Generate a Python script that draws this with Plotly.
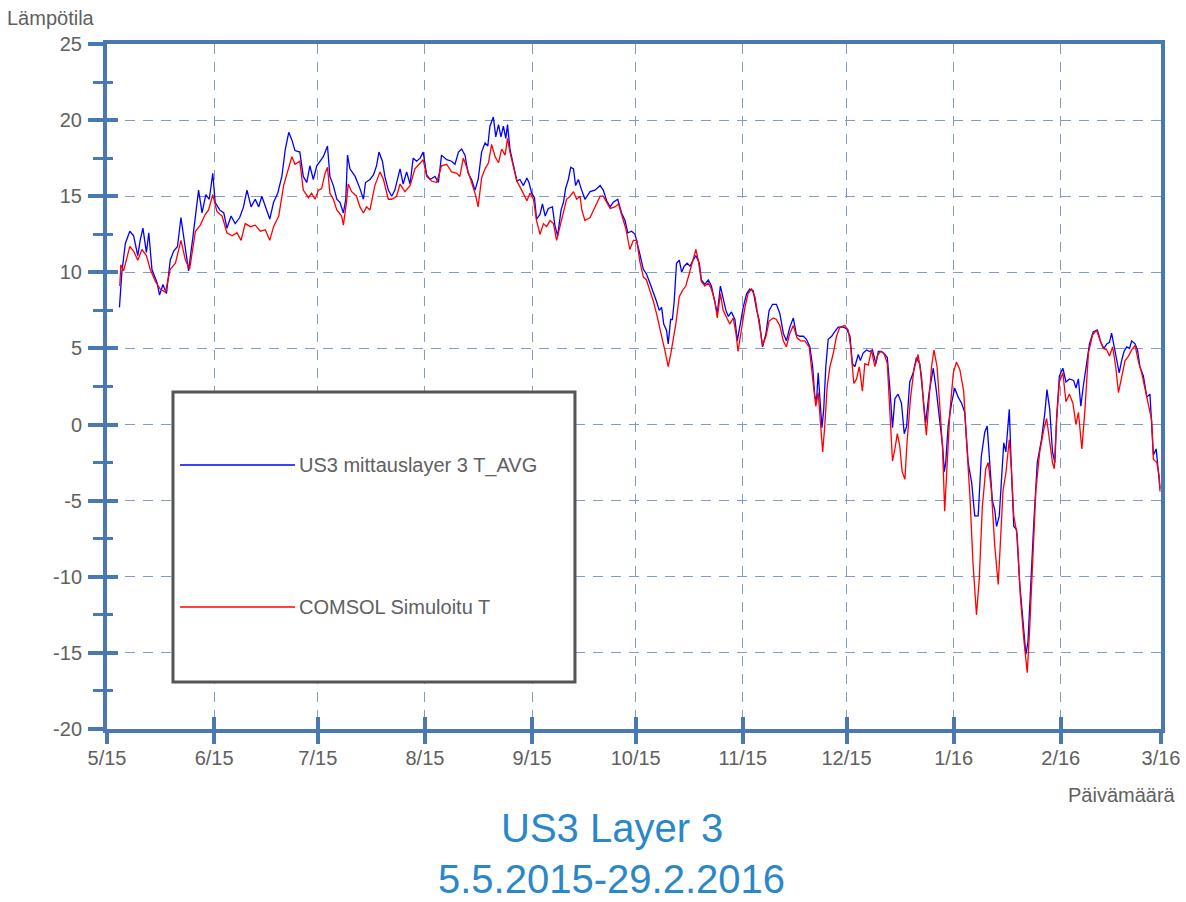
import pandas as pd
import plotly.graph_objects as go

# ---------------- data (days since 2015-05-01, temperature in °C) ----------------
blue_day = [3.6, 4.3, 5.3, 6.6, 7.7, 8.9, 9.6, 10.4, 11.4, 12.1, 13.0, 14.5, 15.2, 16.2, 17.2,
            18.3, 19.3, 20.4, 21.4, 22.4, 23.6, 24.9, 25.8, 26.5, 27.5, 28.6, 29.6, 30.6, 31.3,
            32.6, 33.8, 34.7, 35.9, 37.1, 38.4, 39.5, 40.5, 41.7, 42.9, 43.9, 44.8, 46.1, 47.1,
            48.2, 49.4, 50.6, 51.6, 52.6, 53.5, 54.4, 55.8, 56.8, 57.8, 58.7, 59.7, 60.7, 61.6,
            62.6, 63.8, 64.5, 65.5, 66.5, 67.4, 68.4, 69.1, 69.6, 70.3, 71.8, 73.2, 74.2, 74.8,
            76.1, 77.1, 78.0, 78.7, 79.7, 80.4, 81.4, 82.4, 83.3, 84.8, 85.7, 86.7, 87.7, 88.6,
            89.6, 90.6, 91.5, 92.5, 93.5, 94.9, 95.9, 96.8, 98.3, 99.7, 100.7, 101.7, 102.6,
            103.6, 104.5, 105.5, 106.5, 107.4, 108.4, 109.4, 110.2, 110.8, 111.8, 112.5, 113.3,
            114.0, 114.7, 115.4, 115.9, 116.6, 117.6, 118.6, 119.5, 120.5, 121.5, 122.1, 122.9,
            123.7, 124.3, 125.3, 126.0, 126.8, 127.7, 128.9, 129.6, 130.4, 131.4, 132.1, 132.7,
            133.5, 134.2, 135.0, 135.6, 136.4, 137.2, 138.3, 139.8, 141.2, 142.7, 143.6, 144.6,
            145.6, 146.5, 147.8, 148.9, 149.9, 150.7, 151.8, 152.8, 153.8, 154.2, 155.2, 156.1,
            157.1, 158.1, 159.0, 159.8, 160.5, 161.1, 161.9, 162.4, 163.1, 163.6, 164.1, 164.8,
            165.6, 166.3, 167.0, 167.9, 168.7, 169.6, 170.4, 171.4, 172.0, 173.0, 174.0, 174.9,
            175.9, 176.6, 177.5, 178.3, 179.1, 179.8, 180.7, 181.7, 182.4, 183.1, 184.1, 185.1,
            186.0, 187.0, 188.0, 188.7, 189.7, 190.7, 191.6, 192.6, 193.7, 194.7, 195.7, 196.6,
            197.6, 198.6, 199.5, 200.5, 201.5, 202.4, 203.4, 204.2, 204.8, 205.3, 205.8, 206.3,
            206.9, 207.4, 208.0, 208.7, 209.7, 210.6, 211.6, 213.0, 214.0, 215.0, 215.7, 216.4,
            217.4, 218.0, 218.8, 219.8, 220.7, 221.5, 222.5, 223.2, 224.1, 225.1, 225.8, 226.5,
            227.3, 228.0, 228.9, 229.9, 230.7, 231.4, 232.3, 233.3, 234.2, 235.2, 236.2, 236.9,
            237.9, 239.1, 240.0, 241.0, 241.8, 242.3, 242.7, 243.4, 244.4, 245.3, 246.3, 247.3,
            248.2, 249.2, 250.2, 251.1, 252.1, 253.0, 254.0, 254.7, 255.5, 256.2, 256.9, 257.4,
            258.2, 258.8, 259.5, 260.1, 261.1, 261.7, 262.4, 263.2, 264.1, 265.1, 265.9, 266.5,
            267.3, 268.2, 269.2, 270.4, 271.4, 272.0, 272.8, 273.6, 274.3, 274.8, 275.6, 276.6,
            277.5, 278.5, 279.7, 280.4, 281.1, 281.8, 282.5, 283.3, 284.3, 285.4, 286.6, 287.6,
            288.5, 289.3, 290.1, 290.7, 291.4, 292.2, 292.9, 293.6, 294.3, 295.1, 295.9, 296.5,
            297.5, 298.2, 298.9, 299.9, 300.9, 301.8, 302.3, 302.8, 303.6, 304.2, 304.7]
blue_val = [7.7, 10.0, 11.9, 12.7, 12.4, 11.1, 12.1, 12.9, 11.3, 12.6, 10.2, 9.3, 8.5, 9.2, 8.6,
            10.8, 11.4, 11.7, 13.6, 11.9, 10.1, 12.4, 14.1, 15.4, 13.9, 15.1, 14.8, 16.5, 14.6,
            14.1, 13.9, 12.9, 13.7, 13.2, 13.6, 14.3, 15.4, 14.3, 14.8, 14.3, 15.0, 14.1, 13.5,
            14.6, 15.2, 16.3, 18.1, 19.2, 18.7, 18.0, 17.9, 16.3, 15.9, 17.0, 16.1, 17.0, 17.3,
            17.6, 18.3, 16.3, 15.7, 14.8, 14.6, 13.9, 14.8, 17.7, 16.8, 16.3, 15.5, 14.8, 15.9,
            16.1, 16.4, 17.0, 17.9, 17.3, 16.3, 15.4, 15.0, 15.4, 16.8, 15.8, 16.6, 15.8, 17.5,
            17.3, 17.5, 17.9, 16.4, 16.1, 16.3, 15.9, 17.7, 17.4, 17.3, 17.1, 17.9, 18.1,
            17.7, 16.5, 16.1, 15.4, 16.1, 17.9, 18.5, 18.3, 19.6, 20.2, 18.9, 19.7,
            18.9, 19.6, 18.8, 19.7, 18.1, 17.0, 16.0, 16.1, 15.7, 16.2, 15.9, 15.2,
            14.9, 13.5, 13.8, 14.5, 13.7, 14.2, 14.3, 13.1, 12.4, 14.1, 14.6, 15.5,
            16.1, 16.9, 16.8, 15.7, 16.1, 15.5, 14.8, 15.3, 15.4, 15.7, 15.4, 14.7,
            14.3, 14.6, 14.8, 13.9, 13.4, 12.6, 12.7, 12.5, 11.7, 11.2, 10.2, 9.9,
            9.3, 8.7, 8.1, 7.5, 7.7, 6.6, 6.2, 5.3, 6.9, 6.9, 8.0, 10.6,
            10.8, 10.0, 10.4, 10.6, 10.4, 10.8, 11.1, 10.6, 9.5, 9.2, 9.5, 9.1,
            8.1, 7.3, 9.1, 8.2, 7.5, 7.1, 7.4, 6.9, 5.5, 6.4, 7.7, 8.6,
            8.9, 8.8, 7.5, 6.9, 5.1, 6.0, 7.5, 7.9, 7.9, 7.3, 6.0, 5.5,
            6.4, 7.0, 5.9, 5.8, 5.8, 5.6, 5.1, 3.8, 1.9, 1.5, 3.4, 1.7,
            -0.2, 1.0, 3.8, 5.6, 5.8, 6.1, 6.4, 6.4, 6.3, 5.8, 4.0, 3.8,
            4.6, 4.2, 4.7, 4.9, 4.8, 4.9, 4.0, 4.8, 4.8, 4.6, 4.4, 2.5,
            -0.2, 1.7, 2.0, 1.4, -0.6, -0.1, 2.8, 3.4, 4.4, 4.0, 1.7, 0.1,
            2.1, 3.7, 2.2, 0.4, -1.4, -3.1, -2.5, -0.1, 1.4, 2.4, 1.8, 1.4,
            0.8, -2.5, -3.8, -6.0, -6.0, -2.1, -0.5, -0.1, -2.5, -5.0, -5.6, -6.7,
            -6.0, -4.0, -1.2, -1.8, 1.0, -2.9, -6.7, -6.9, -10.4, -13.0, -15.1, -14.3,
            -10.2, -6.4, -2.5, -1.0, 0.8, 2.3, 1.0, -1.8, -2.5, 0.5, 3.2, 3.7,
            2.8, 3.0, 2.9, 2.4, 3.0, 1.2, 2.5, 3.7, 5.3, 6.1, 6.2, 5.4,
            5.0, 5.3, 5.4, 6.0, 5.1, 4.1, 3.4, 4.2, 4.8, 5.1, 5.0, 5.5,
            5.3, 4.9, 3.8, 3.2, 1.8, 2.0, 0.1, -2.0, -1.6, -3.2, -4.2]

red_day = [3.7, 4.0, 4.8, 5.8, 6.6, 7.7, 8.9, 10.1, 11.4, 12.5, 14.0, 15.4, 16.9, 18.3, 19.8,
           21.4, 22.7, 23.9, 25.6, 27.0, 28.4, 29.4, 30.6, 31.8, 33.3, 34.7, 36.2, 37.6, 38.8,
           40.0, 41.5, 42.9, 44.4, 45.8, 47.1, 48.2, 49.7, 51.1, 52.6, 53.5, 54.4, 55.8, 56.8,
           58.3, 59.2, 60.2, 61.2, 62.1, 63.1, 63.8, 64.5, 65.5, 66.5, 67.9, 68.4, 69.3, 69.8,
           70.8, 72.2, 73.2, 74.2, 75.1, 76.1, 77.5, 79.0, 80.0, 81.4, 82.4, 83.8, 84.8, 86.2,
           87.7, 89.1, 90.6, 91.5, 92.5, 93.9, 95.4, 96.8, 98.3, 99.7, 101.2, 102.1, 103.1,
           104.1, 105.5, 106.5, 107.4, 108.4, 109.4, 110.4, 111.3, 112.3, 113.3, 114.2, 115.2,
           115.9, 116.6, 117.6, 118.6, 120.0, 121.5, 122.4, 123.4, 124.3, 125.3, 126.3, 127.2,
           128.2, 129.2, 130.1, 131.1, 132.1, 133.0, 134.0, 135.0, 135.9, 136.9, 137.4, 138.3,
           139.8, 141.2, 142.7, 143.6, 144.6, 145.6, 147.0, 148.0, 148.9, 150.1, 151.3, 152.3,
           153.3, 153.9, 154.2, 155.2, 156.1, 157.1, 158.1, 159.0, 159.8, 160.5, 161.4, 162.4,
           163.1, 163.8, 164.6, 165.6, 166.5, 167.5, 168.5, 169.4, 170.4, 171.1, 172.0, 173.0,
           174.0, 174.9, 175.9, 176.6, 177.5, 178.3, 179.3, 180.2, 181.2, 182.0, 182.6, 183.6,
           184.6, 185.5, 186.5, 187.5, 188.4, 189.7, 190.7, 191.6, 192.8, 193.7, 194.7, 195.7,
           196.6, 197.6, 198.6, 199.7, 200.7, 201.9, 203.2, 204.2, 205.1, 205.8, 206.5, 207.1,
           207.7, 208.4, 209.2, 210.1, 211.1, 212.1, 213.5, 214.5, 215.2, 216.1, 216.9, 217.7,
           218.6, 219.3, 220.3, 221.2, 222.2, 222.9, 223.8, 224.8, 225.8, 226.5, 227.3, 228.0,
           228.7, 229.4, 230.1, 230.9, 231.5, 232.5, 233.5, 234.7, 235.7, 236.4, 237.1, 237.9,
           238.6, 239.3, 240.2, 241.0, 241.8, 242.4, 243.1, 243.9, 244.9, 245.8, 246.8, 247.9,
           248.7, 249.7, 250.6, 251.6, 252.4, 253.3, 254.3, 255.0, 255.9, 256.9, 257.9, 258.5,
           259.3, 260.1, 261.1, 261.7, 262.4, 263.4, 264.3, 265.3, 266.3, 267.0, 267.8, 268.8,
           269.9, 271.1, 271.9, 272.6, 273.6, 274.1, 274.8, 275.6, 276.6, 277.5, 278.5, 279.5,
           280.4, 281.1, 282.1, 283.0, 284.0, 285.2, 286.4, 287.4, 288.3, 289.3, 290.1, 291.0,
           291.9, 292.7, 293.6, 294.6, 295.6, 296.5, 297.5, 298.5, 299.4, 300.4, 301.3, 302.3,
           302.8, 303.8, 304.5, 304.7]
red_val = [9.1, 10.5, 10.1, 11.1, 11.7, 11.4, 10.8, 11.5, 11.1, 10.2, 9.4, 8.9, 8.7, 10.2, 10.6,
           12.1, 10.8, 10.2, 12.7, 13.1, 13.8, 14.1, 15.1, 14.0, 13.7, 12.6, 12.4, 12.6, 12.1,
           13.2, 13.0, 13.1, 12.7, 12.8, 12.1, 13.0, 13.7, 15.7, 16.8, 17.6, 17.1, 17.3, 15.4,
           14.9, 15.2, 14.8, 15.4, 15.5, 16.5, 16.9, 15.2, 14.8, 14.1, 13.7, 13.1, 14.6, 15.8,
           15.3, 15.0, 14.3, 13.9, 14.3, 14.1, 15.7, 16.6, 16.1, 14.8, 14.8, 15.0, 15.8, 15.3,
           15.7, 16.8, 17.2, 17.4, 16.3, 16.0, 15.9, 17.0, 17.1, 16.6, 16.5, 16.3, 17.5,
           16.9, 15.9, 15.2, 14.3, 16.2, 16.8, 17.2, 18.4, 17.6, 17.2, 18.1, 17.7,
           18.8, 17.9, 17.0, 16.0, 15.4, 14.7, 15.2, 14.8, 13.4, 12.5, 13.2, 13.0,
           13.4, 13.2, 12.1, 13.0, 13.8, 14.8, 15.0, 15.3, 14.8, 15.0, 14.1, 13.4,
           13.6, 14.3, 15.0, 15.0, 14.6, 14.2, 14.3, 14.5, 13.8, 12.9, 11.5, 12.1,
           12.1, 11.3, 10.7, 9.7, 9.5, 8.8, 8.1, 7.3, 6.6, 5.8, 4.9, 3.8,
           4.6, 5.5, 6.6, 8.4, 8.8, 9.1, 9.9, 10.6, 11.5, 10.8, 9.4, 9.1,
           9.3, 8.9, 8.1, 7.0, 8.6, 7.5, 7.0, 6.6, 7.0, 6.0, 4.8, 6.4,
           7.7, 8.6, 8.9, 8.4, 7.1, 5.2, 5.8, 6.8, 7.0, 6.9, 6.5, 5.5,
           5.1, 6.0, 6.5, 5.7, 5.5, 5.5, 5.1, 3.2, 1.2, 2.1, -0.1, -1.8,
           -0.1, 2.5, 3.8, 4.6, 5.8, 6.4, 6.5, 6.2, 5.1, 2.7, 3.0, 3.8,
           2.2, 4.0, 3.9, 4.9, 3.8, 4.5, 4.8, 4.7, 4.0, 1.0, -2.4, -1.6,
           -0.6, -1.4, -3.1, -3.6, -1.2, 1.7, 3.6, 4.6, 3.2, 1.0, -0.7, 1.7,
           3.8, 4.9, 3.8, 1.2, -1.6, -5.7, -2.5, 0.8, 3.4, 4.1, 3.6, 2.2,
           -1.0, -4.7, -9.1, -12.5, -10.2, -5.4, -2.9, -2.5, -4.3, -8.0, -10.5, -8.0,
           -4.3, -3.2, -1.0, -2.9, -6.0, -7.3, -11.3, -14.1, -16.3, -13.4, -9.1, -4.3,
           -1.8, -0.3, 0.4, -0.8, -2.5, -2.9, 0.3, 2.8, 3.4, 1.5, 2.0, 1.4,
           0.0, 0.8, -1.6, 1.0, 4.7, 5.9, 6.2, 5.5, 5.0, 4.9, 4.5, 5.1,
           3.8, 2.1, 3.2, 4.2, 4.5, 4.9, 5.2, 4.1, 3.4, 2.3, 1.4, 0.3,
           -2.3, -2.5, -3.4, -4.4]

month_ticks = ["2015-05-01", "2015-06-01", "2015-07-01", "2015-08-01", "2015-09-01",
               "2015-10-01", "2015-11-01", "2015-12-01", "2016-01-01", "2016-02-01",
               "2016-03-01"]
month_labels = ["5/15", "6/15", "7/15", "8/15", "9/15", "10/15", "11/15", "12/15",
                "1/16", "2/16", "3/16"]
y_ticks = [-20, -15, -10, -5, 0, 5, 10, 15, 20, 25]
y_labels = ["-20", "-15", "-10", "-5", "0", "5", "10", "15", "20", "25"]

blue_name = "US3 mittauslayer 3 T_AVG"
red_name = "COMSOL Simuloitu T"
title_lines = ["US3 Layer 3", "5.5.2015-29.2.2016"]

# ---------------- build ----------------
base = pd.Timestamp("2015-05-01")
bx = base + pd.to_timedelta(blue_day, unit="D")
rx = base + pd.to_timedelta(red_day, unit="D")

AX = "#4a78b0"
GRID = "#7f9dc6"
TXT = "#606060"
FONT = "Liberation Sans, Arial, sans-serif"

fig = go.Figure()
fig.add_trace(go.Scatter(x=bx, y=blue_val, mode="lines", name=blue_name,
                         line=dict(color="#0000ff", width=1.3), showlegend=False,
                         xaxis="x", yaxis="y"))
fig.add_trace(go.Scatter(x=rx, y=red_val, mode="lines", name=red_name,
                         line=dict(color="#ff0000", width=1.3), showlegend=False,
                         xaxis="x2", yaxis="y2"))

xr = [month_ticks[0], month_ticks[-1]]
yr = [-20, 25]

fig.update_layout(
    width=1186, height=902,
    margin=dict(l=107, r=25, t=44, b=173),
    paper_bgcolor="white", plot_bgcolor="white",
    font=dict(family=FONT, size=20, color=TXT),
    xaxis=dict(type="date", range=xr, tickvals=month_ticks, ticktext=month_labels,
               ticks="inside", ticklen=12, tickwidth=4, tickcolor=AX,
               ticklabelstandoff=8, ticklabeloverflow="allow", automargin=False,
               showline=True, linewidth=4, linecolor=AX, mirror=True,
               showgrid=True, gridcolor=GRID, gridwidth=1.2, griddash="10px,8px",
               zeroline=False, tickfont=dict(size=20, color=TXT)),
    yaxis=dict(range=yr, tickvals=y_ticks, ticktext=y_labels,
               ticks="outside", ticklen=15, tickwidth=4, tickcolor=AX,
               ticklabelstandoff=2, automargin=False,
               minor=dict(ticks="outside", ticklen=10, tickwidth=3, tickcolor=AX,
                          dtick=2.5, tick0=0, showgrid=False),
               showline=True, linewidth=4, linecolor=AX, mirror=True,
               showgrid=True, gridcolor=GRID, gridwidth=1.2, griddash="10px,8px",
               zeroline=False, tickfont=dict(size=20, color=TXT)),
    xaxis2=dict(type="date", range=xr, overlaying="x", anchor="y2", side="bottom",
                tickvals=month_ticks, ticks="outside", ticklen=14, tickwidth=4,
                tickcolor=AX, showticklabels=False, showline=False, showgrid=False,
                zeroline=False, automargin=False),
    yaxis2=dict(range=yr, overlaying="y", anchor="x2", side="left", tickvals=y_ticks,
                ticks="inside", ticklen=11, tickwidth=4, tickcolor=AX,
                minor=dict(ticks="inside", ticklen=6, tickwidth=3, tickcolor=AX,
                           dtick=2.5, tick0=0, showgrid=False),
                showticklabels=False, showline=False, showgrid=False, zeroline=False,
                automargin=False),
)

# legend box (drawn manually to match the original layout)
fig.add_shape(type="rect", xref="paper", yref="paper", x0=0.0626, x1=0.444,
              y0=0.0686, y1=0.492, line=dict(color="#555555", width=3),
              fillcolor="white", layer="above")
fig.add_shape(type="line", xref="paper", yref="paper", x0=0.0693, x1=0.1784,
              y0=0.3854, y1=0.3854, line=dict(color="#0000ff", width=1.3), layer="above")
fig.add_shape(type="line", xref="paper", yref="paper", x0=0.0693, x1=0.1784,
              y0=0.1781, y1=0.1781, line=dict(color="#ff0000", width=1.3), layer="above")
fig.add_annotation(x=0.1800, y=0.3854, xref="paper", yref="paper", text=blue_name,
                   showarrow=False, xanchor="left", yanchor="middle",
                   font=dict(size=20, color=TXT))
fig.add_annotation(x=0.1800, y=0.1781, xref="paper", yref="paper", text=red_name,
                   showarrow=False, xanchor="left", yanchor="middle",
                   font=dict(size=20, color=TXT))

# axis titles
fig.add_annotation(x=-0.097, y=1.038, xref="paper", yref="paper", text="Lämpötila",
                   showarrow=False, xanchor="left", yanchor="middle",
                   font=dict(size=20, color=TXT))
fig.add_annotation(x=1.016, y=-0.0964, xref="paper", yref="paper", text="Päivämäärä",
                   showarrow=False, xanchor="right", yanchor="middle",
                   font=dict(size=20, color=TXT))

# title lines
fig.add_annotation(x=0.479, y=-0.1445, xref="paper", yref="paper", text=title_lines[0],
                   showarrow=False, xanchor="center", yanchor="middle",
                   font=dict(size=40, color="#2b88c8"))
fig.add_annotation(x=0.479, y=-0.2190, xref="paper", yref="paper", text=title_lines[1],
                   showarrow=False, xanchor="center", yanchor="middle",
                   font=dict(size=40, color="#2b88c8"))

# remove the browser's default 8px page margin so the figure fills the window exactly
fig.write_html("out.html", config={"displayModeBar": False},
               post_script="document.body.style.margin='0';")
